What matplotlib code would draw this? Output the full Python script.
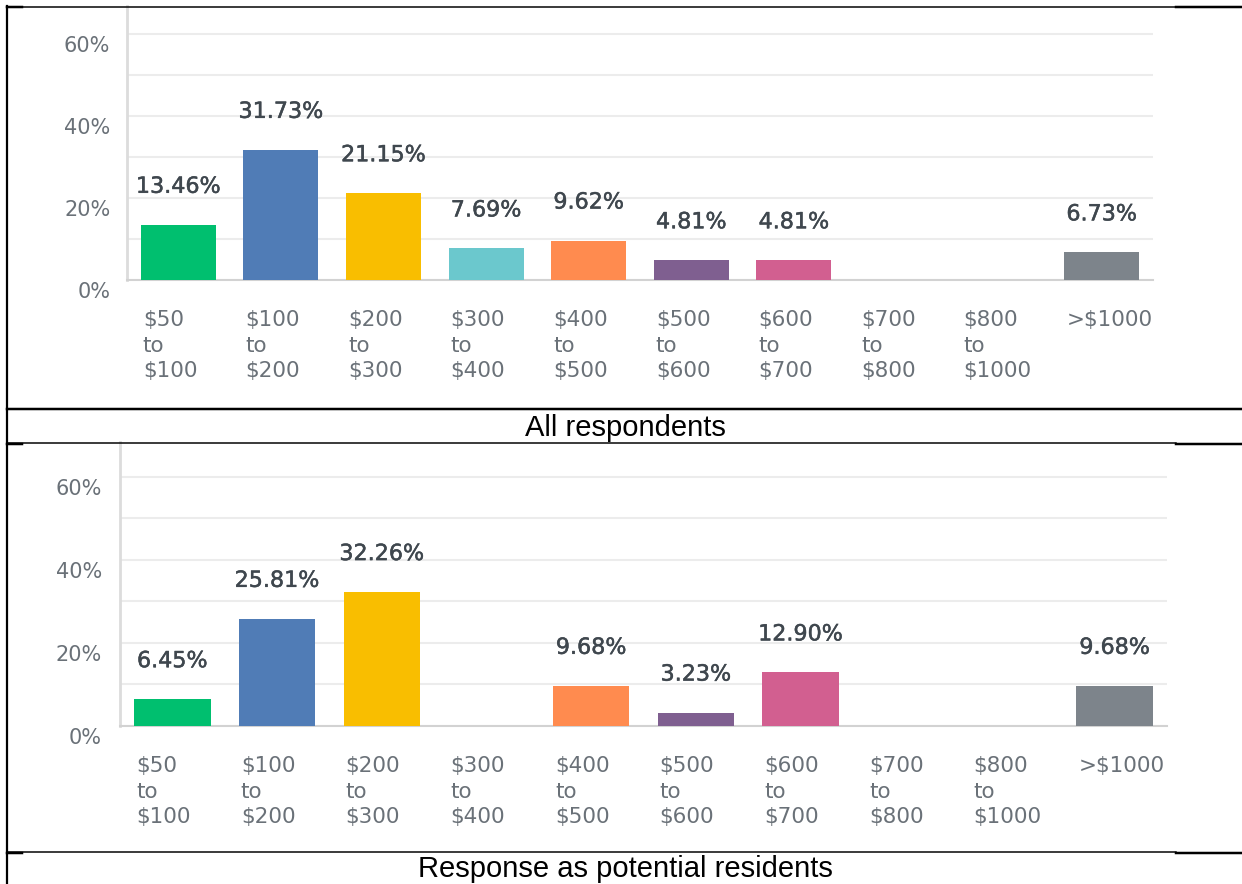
import matplotlib
matplotlib.use("Agg")
import matplotlib.pyplot as plt
import matplotlib.patheffects as pe
from matplotlib.lines import Line2D
from matplotlib.transforms import ScaledTranslation

# price ranges (x axis)
categories = ["$50\nto\n$100", "$100\nto\n$200", "$200\nto\n$300", "$300\nto\n$400",
              "$400\nto\n$500", "$500\nto\n$600", "$600\nto\n$700", "$700\nto\n$800",
              "$800\nto\n$1000", ">$1000"]

# percent of answers
all_respondents = [13.46, 31.73, 21.15, 7.69, 9.62, 4.81, 4.81, 0, 0, 6.73]
potential_residents = [6.45, 25.81, 32.26, 0, 9.68, 3.23, 12.90, 0, 0, 9.68]

captions = ["All respondents", "Response as potential residents"]
yticks = [0, 20, 40, 60]
ytick_labels = ["0%", "20%", "40%", "60%"]

colors = ["#00bf6f", "#507cb6", "#f9be00", "#6bc8cd", "#ff8b4f",
          "#7f5f90", "#d25f90", "#a0a0a0", "#a0a0a0", "#7d848b"]

W, H = 1242, 884
fig = plt.figure(figsize=(W / 100, H / 100), dpi=100)

tick_color = "#6a7178"
value_color = "#3f474e"
font = "DejaVu Sans"


def px_rect(left, top, right, bottom):
    return [left / W, 1 - bottom / H, (right - left) / W, (bottom - top) / H]


def draw_panel(rect, values, ymax, pad):
    ax = fig.add_axes(rect)
    x = list(range(len(values)))
    bw = 0.73
    ax.bar(x, values, width=bw, color=colors, zorder=3)
    ax.set_xlim(-0.5, len(values) - 0.5)
    ax.set_ylim(0, ymax)

    ax.set_yticks(yticks)
    ax.set_yticklabels(ytick_labels, fontsize=15, color=tick_color, family=font)
    ax.set_yticks([10, 30, 50], minor=True)
    ax.grid(True, axis="y", which="both", color="#ececec", linewidth=1.5, zorder=0)
    ax.tick_params(axis="y", which="both", length=0, pad=pad)
    for lab in ax.get_yticklabels():
        lab.set_transform(lab.get_transform() + ScaledTranslation(0, -0.10, fig.dpi_scale_trans))

    ax.set_xticks([])
    for side in ["top", "right"]:
        ax.spines[side].set_visible(False)
    ax.spines["left"].set_color("#dcdcdc")
    ax.spines["left"].set_linewidth(2)
    ax.spines["bottom"].set_color("#d2d2d2")
    ax.spines["bottom"].set_linewidth(1.5)

    for i, v in enumerate(values):
        ax.annotate(categories[i], xy=(i - bw / 2, 0), xycoords=("data", "axes fraction"),
                    xytext=(2, -30), textcoords="offset pixels", ha="left", va="top",
                    fontsize=15.5, color=tick_color, family=font, linespacing=1.35)
        if v > 0:
            ax.annotate(f"{v:.2f}%", xy=(i, v), xytext=(0, 38), textcoords="offset pixels",
                        ha="center", va="center", fontsize=16, color=value_color,
                        family=font,
                        path_effects=[pe.withStroke(linewidth=0.35, foreground=value_color)])
    return ax


draw_panel(px_rect(127, 6, 1153, 280), all_respondents, 66.8, 12)
draw_panel(px_rect(120, 442, 1167, 726), potential_residents, 68.4, 13)

# captions
fig.text(625 / W, 1 - 428 / H, captions[0], ha="center", va="center",
         fontsize=21, family="Liberation Sans")
fig.text(625 / W, 1 - 869 / H, captions[1], ha="center", va="center",
         fontsize=21, family="Liberation Sans")


# table frame lines (pixel coords)
def hline(y, x0, x1, lw):
    fig.add_artist(Line2D([x0 / W, x1 / W], [1 - y / H, 1 - y / H], color="black",
                          linewidth=lw * 0.72, transform=fig.transFigure))


fig.add_artist(Line2D([7 / W, 7 / W], [1 - 6 / H, 0], color="black", linewidth=1.6,
                      transform=fig.transFigure))
for y in [6.5, 443, 852.3]:
    hline(y, 7, 1176, 1.5)
    hline(y + 0.5, 1176, 1242, 2.5)
    hline(y + 0.5, 7, 22, 2.5)
hline(408.8, 7, 1242, 2.5)

fig.savefig("out.png", dpi=100)
